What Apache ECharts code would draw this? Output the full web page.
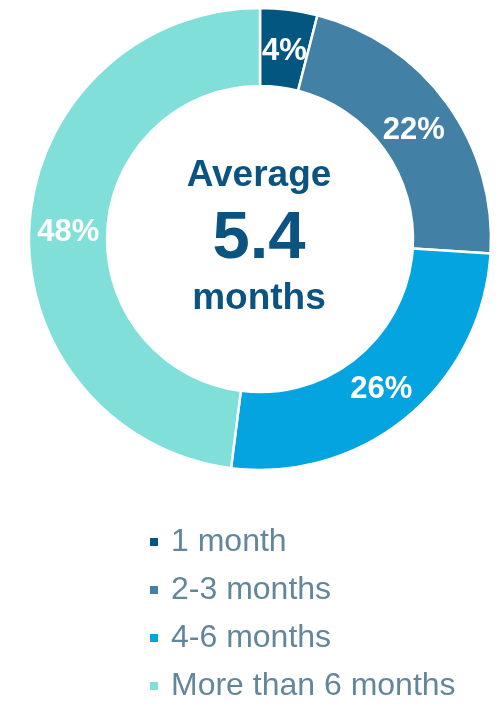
<!DOCTYPE html>
<html>
<head>
<meta charset="utf-8">
<script src="https://cdn.jsdelivr.net/npm/echarts@6/dist/echarts.min.js"></script>
<style>
  html, body { margin: 0; padding: 0; background: #fff; }
  #chart { width: 500px; height: 706px; }
</style>
</head>
<body>
<div id="chart"></div>
<script>
// data
const categories = ['1 month', '2-3 months', '4-6 months', 'More than 6 months']
const shares = [4, 22, 26, 48]
const colors = ['#02567f', '#4380a6', '#04a4e0', '#80e0d9']
const centerLines = ['Average', '5.4', 'months']

const chart = echarts.init(document.getElementById('chart'), null, { renderer: 'canvas' })

const font = 'Liberation Sans, Arial, sans-serif'
const centerText = (text, y, size) => ({
  type: 'text', x: 259, y,
  style: {
    text, fill: '#0b5482', font: 'bold ' + size + 'px ' + font,
    align: 'center', verticalAlign: 'middle'
  }
})
// small nudges so the slice labels sit where the original put them
const labelNudge = [[0, 6], [-4, 6], [-3, 0], [3, 6]]

chart.setOption({
  animation: false,
  color: colors,
  legend: {
    orient: 'vertical',
    left: 148,
    top: 526,
    padding: 0,
    icon: 'rect',
    itemWidth: 10,
    itemHeight: 10,
    itemGap: 16,
    selectedMode: false,
    textStyle: { color: '#62879a', fontSize: 32, fontFamily: font, padding: [0, 0, 0, 7] },
    data: categories
  },
  graphic: [
    centerText(centerLines[0], 176, 37),
    centerText(centerLines[1], 240, 67),
    centerText(centerLines[2], 299, 37)
  ],
  series: [{
    type: 'pie',
    center: [260, 239],
    radius: [153, 231],
    startAngle: 90,
    clockwise: true,
    itemStyle: { borderColor: '#fff', borderWidth: 2.5 },
    label: {
      position: 'inside',
      formatter: '{c}%',
      color: '#fff',
      fontSize: 31,
      fontWeight: 'bold',
      fontFamily: font
    },
    labelLine: { show: false },
    emphasis: { disabled: true },
    data: categories.map((name, i) => ({
      name,
      value: shares[i],
      label: { offset: labelNudge[i] }
    }))
  }]
})
</script>
</body>
</html>
